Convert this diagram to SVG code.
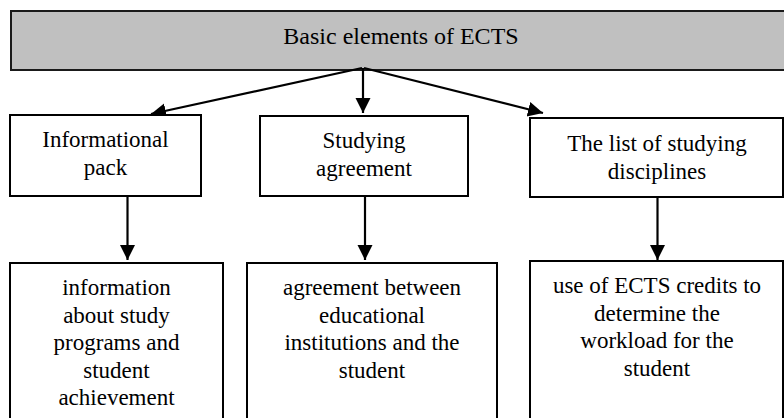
<svg xmlns="http://www.w3.org/2000/svg" width="784" height="418" viewBox="0 0 784 418" font-family="'Liberation Serif', Times, serif">
  <defs>
    <style>
      .box { fill: #ffffff; stroke: #000000; stroke-width: 2; }
      .head { fill: #c0c0c0; stroke: #1a1a1a; stroke-width: 2; }
      text { font-family: 'Liberation Serif', Times, serif; fill: #000000; text-anchor: middle; }
      .t { font-size: 23px; }
      .th { font-size: 24px; }
      .c { stroke: #000000; stroke-width: 2.2; fill: none; marker-end: url(#ah); }
    </style>
    <marker id="ah" markerUnits="userSpaceOnUse" markerWidth="16" markerHeight="16" refX="15" refY="7.5" orient="auto">
      <path d="M0,0 L15,7.5 L0,15 Z" fill="#000000"/>
    </marker>
  </defs>
  <rect width="784" height="418" fill="#ffffff"/>

  <g id="header">
    <rect class="head" x="11" y="11" width="790" height="59"/>
    <text class="th" x="401" y="44">Basic elements of ECTS</text>
  </g>

  <g id="connectors">
    <line class="c" x1="362" y1="68" x2="151" y2="114"/>
    <line class="c" x1="363" y1="68" x2="363" y2="113"/>
    <line class="c" x1="364" y1="68" x2="543" y2="113"/>
    <line class="c" x1="127.5" y1="196" x2="127.5" y2="260"/>
    <line class="c" x1="365" y1="196" x2="365" y2="260"/>
    <line class="c" x1="657.5" y1="197" x2="657.5" y2="260"/>
  </g>

  <g id="info-pack">
    <rect class="box" x="10" y="115" width="191" height="81"/>
    <text class="t" x="105.5" y="147">Informational</text>
    <text class="t" x="105.5" y="174.5">pack</text>
  </g>

  <g id="study-agreement">
    <rect class="box" x="260" y="116" width="208" height="80"/>
    <text class="t" x="364" y="148">Studying</text>
    <text class="t" x="364" y="175.5">agreement</text>
  </g>

  <g id="discipline-list">
    <rect class="box" x="530" y="118" width="253" height="79"/>
    <text class="t" x="657" y="151">The list of studying</text>
    <text class="t" x="657" y="178.5">disciplines</text>
  </g>

  <g id="info-detail">
    <rect class="box" x="10" y="263" width="213" height="170"/>
    <text class="t" x="116.5" y="295">information</text>
    <text class="t" x="116.5" y="322.5">about study</text>
    <text class="t" x="116.5" y="350">programs and</text>
    <text class="t" x="116.5" y="377.5">student</text>
    <text class="t" x="116.5" y="405">achievement</text>
  </g>

  <g id="agreement-detail">
    <rect class="box" x="247" y="263" width="250" height="170"/>
    <text class="t" x="372" y="295">agreement between</text>
    <text class="t" x="372" y="322.5">educational</text>
    <text class="t" x="372" y="350">institutions and the</text>
    <text class="t" x="372" y="377.5">student</text>
  </g>

  <g id="ects-detail">
    <rect class="box" x="530" y="261" width="253" height="172"/>
    <text class="t" x="657" y="293">use of ECTS credits to</text>
    <text class="t" x="657" y="320.5">determine the</text>
    <text class="t" x="657" y="348">workload for the</text>
    <text class="t" x="657" y="375.5">student</text>
  </g>
</svg>
